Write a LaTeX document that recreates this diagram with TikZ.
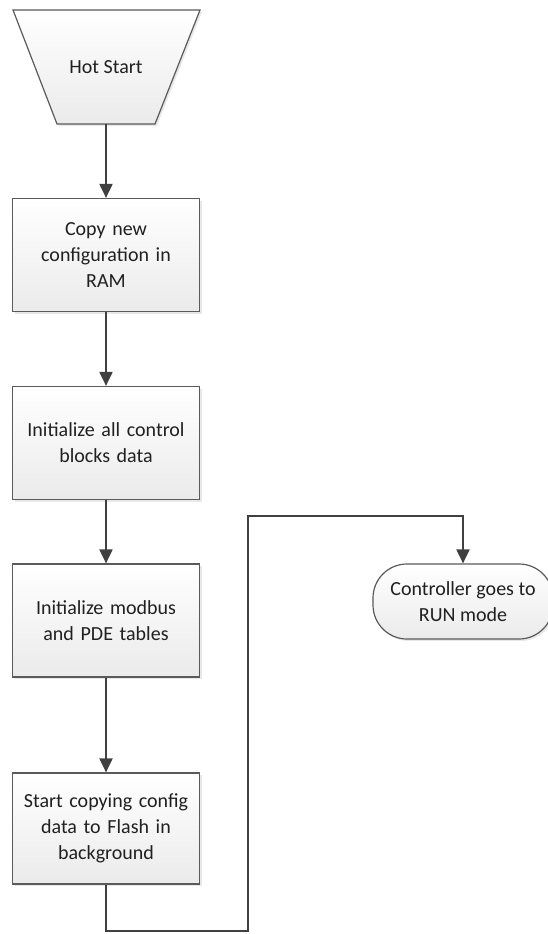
\documentclass[tikz,border=0pt]{standalone}
\usepackage{fontspec}
\setmainfont{Carlito}
\usetikzlibrary{arrows.meta,shadows}
\definecolor{edgegray}{HTML}{5A5A5A}
\definecolor{linegray}{HTML}{404040}
\definecolor{textgray}{HTML}{202020}
\tikzset{
  boxfill/.style={draw=edgegray, line width=1.2pt, top color=white, bottom color=gray!16,
    drop shadow={opacity=0.18, shadow xshift=2pt, shadow yshift=-2pt}},
  flowtext/.style={align=center, text=textgray, font=\fontsize{20}{26}\selectfont},
  flowbox/.style={boxfill, flowtext},
  procbox/.style={flowbox, rectangle, minimum width=187pt, minimum height=113pt, text width=180pt, inner xsep=0pt},
  flowline/.style={draw=linegray, line width=2pt},
  flowarrow/.style={flowline, -{Triangle[length=14pt,width=13pt]}}
}
\begin{document}
\begin{tikzpicture}[x=1pt,y=1pt]
\useasboundingbox (0,0) rectangle (548,-934);
% start trapezoid, wide side on top
\draw[boxfill] (13,-10) -- (200,-10) -- (155,-124) -- (57,-124) -- cycle;
\node[flowtext, minimum width=98pt, minimum height=114pt, inner sep=0pt] (hotstart) at (106,-67) {Hot Start};
\node[procbox] (copyram) at (106,-255) {Copy new\\configuration in\\RAM};
\node[procbox] (initblocks) at (106,-443) {Initialize all control\\blocks data};
\node[procbox] (initmodbus) at (106,-620.5) {Initialize modbus\\and PDE tables};
\node[procbox, minimum height=111pt] (startflash) at (106,-828.5) {Start copying config\\data to Flash in\\background};
\node[flowbox, rectangle, rounded corners=34pt, minimum width=180pt, minimum height=75pt, inner xsep=0pt] (runmode) at (463,-601.5) {Controller goes to\\RUN mode};
\coordinate (low) at (106,-931);
\coordinate (lowright) at (248,-931);
\coordinate (topright) at (248,-516);
\coordinate (abovetarget) at (463,-516);
\draw[flowarrow] (hotstart) -- (copyram);
\draw[flowarrow] (copyram) -- (initblocks);
\draw[flowarrow] (initblocks) -- (initmodbus);
\draw[flowarrow] (initmodbus) -- (startflash);
\draw[flowarrow] (startflash.south) -- (low) -- (lowright) -- (topright) -- (abovetarget) -- (runmode.north);
\end{tikzpicture}
\end{document}
